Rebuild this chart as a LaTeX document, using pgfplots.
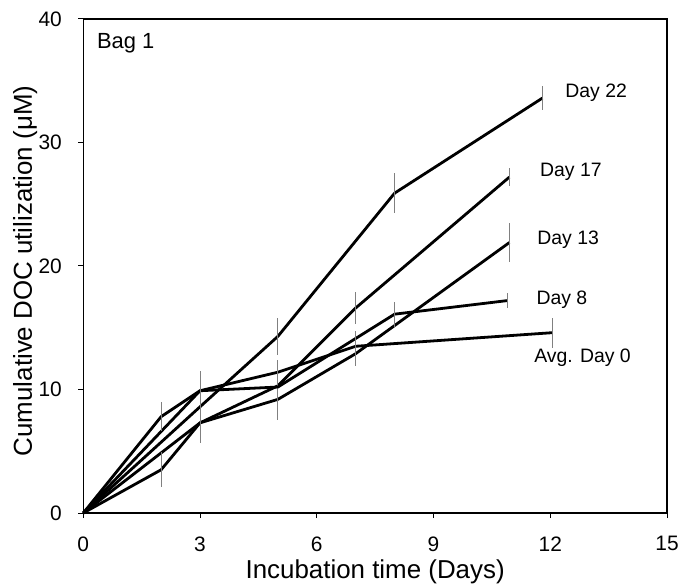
\documentclass[border=0pt]{standalone}
\usepackage{pgfplots}
\pgfplotsset{compat=1.18}
\usepackage{fontspec}
\setmainfont{Liberation Sans}

\pgfplotsset{
  dataline/.style={line width=2.8bp, black, line join=round,
    error bars/.cd, y dir=both, y explicit, error mark=none,
    error bar style={gray, line width=0.8bp}},
}

\begin{document}
\begin{tikzpicture}
\begin{axis}[
  width=583.7bp, height=494bp, scale only axis,
  xmin=0, xmax=15, ymin=0, ymax=40,
  xtick={0,3,6,9,12,15}, ytick={0,10,20,30,40},
  tick align=outside, major tick length=5bp,
  xtick pos=left, ytick pos=left,
  axis line style={line width=1.5bp},
  tick style={line width=1bp, black},
  /pgf/number format/assume math mode=true,
  tick label style={font=\fontsize{21}{24}\selectfont},
  xticklabel style={yshift=-15bp},
  yticklabel style={xshift=-13bp},
  label style={font=\fontsize{26}{30}\selectfont},
  xlabel={Incubation time (Days)},
  ylabel={Cumulative DOC utilization (μM)},
  xlabel style={at={(axis description cs:0.5,-0.1316)}, anchor=base},
  ylabel style={at={(axis description cs:-0.0879,0.49)}, anchor=base},
  clip=false,
]
% Day 22
\addplot[dataline] table[x=x, y=y, y error=e] {
x y e
0 0 0
3 8.6 0
5 14.3 1.5
8 25.9 1.6
11.8 33.6 0.95
};
% Day 17
\addplot[dataline] table[x=x, y=y, y error=e] {
x y e
0 0 0
3 7.3 0
5 10.3 0
7 16.6 1.3
10.95 27.2 0.7
};
% Day 13
\addplot[dataline] table[x=x, y=y, y error=e] {
x y e
0 0 0
2 3.5 1.4
3 7.3 1.6
5 9.2 1.7
7 12.9 1.0
10.95 21.9 1.6
};
% Day 8
\addplot[dataline] table[x=x, y=y, y error=e] {
x y e
0 0 0
3 9.9 0
5 10.2 0
8 16.1 1.0
10.9 17.2 0.6
};
% Avg. Day 0
\addplot[dataline] table[x=x, y=y, y error=e] {
x y e
0 0 0
2 7.8 1.2
3 9.9 1.6
5 11.4 1.0
7 13.5 1.2
12.05 14.6 1.2
};

\node[font=\fontsize{19.5}{22}\selectfont] at (axis cs:13.18,34.0) {Day 22};
\node[font=\fontsize{19.5}{22}\selectfont] at (axis cs:12.53,27.64) {Day 17};
\node[font=\fontsize{19.5}{22}\selectfont] at (axis cs:12.46,22.16) {Day 13};
\node[font=\fontsize{19.5}{22}\selectfont] at (axis cs:12.3,17.3) {Day 8};
\node[font=\fontsize{19.5}{22}\selectfont] at (axis cs:12.83,12.6) {Avg. Day 0};
\node[font=\fontsize{22}{26}\selectfont, anchor=west, inner sep=0pt] at (axis cs:0.35,38.06) {Bag 1};
\end{axis}
\pgfresetboundingbox
\path ([shift={(-83.3bp,-71bp)}]current axis.south west) rectangle ([shift={(12bp,19bp)}]current axis.north east);
\end{tikzpicture}
\end{document}
